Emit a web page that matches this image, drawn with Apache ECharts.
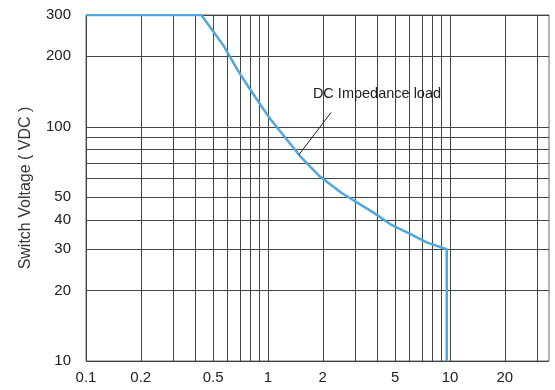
<!DOCTYPE html>
<html>
<head>
<meta charset="utf-8">
<script src="https://cdn.jsdelivr.net/npm/echarts@6/dist/echarts.min.js"></script>
<style>
  html, body { margin: 0; padding: 0; background: #fff; }
  #main { width: 555px; height: 390px; }
</style>
</head>
<body>
<div id="main"></div>
<script>
// switching current (A) / switch voltage (VDC)
var currentA = [0.1, 0.43, 0.57, 0.68, 0.79, 0.93, 1.03, 1.5, 1.9, 2.55, 3.8, 4.8, 6.0, 7.5, 9.6, 9.6];
var voltageV = [300, 300, 222, 175, 146, 121, 108, 75, 62, 52, 43, 38, 35, 32, 30, 10];

var xLabelValues = [0.1, 0.2, 0.5, 1, 2, 5, 10, 20];
var xGridValues = [0.1, 0.2, 0.3, 0.4, 0.5, 0.6, 0.7, 0.8, 0.9, 1, 2, 3, 4, 5, 6, 7, 8, 9, 10, 20, 30];
var yLabelValues = [10, 20, 30, 40, 50, 100, 200, 300];
var yGridValues = [10, 20, 30, 40, 50, 60, 70, 80, 90, 100, 200, 300];

// leader line of the "DC Impedance load" note
var noteLine = [[1.48, 76], [2.22, 115]];
var notePos = [3.97, 138];

var chart = echarts.init(document.getElementById('main'));
var lineColor = '#444';
var font = 'Liberation Sans, Arial, sans-serif';

var option = {
  animation: false,
  grid: {
    left: 86,
    right: 6,
    top: 15,
    bottom: 29,
    show: true,
    borderColor: '#666',
    borderWidth: 1
  },
  xAxis: {
    type: 'log',
    min: 0.1,
    max: 35,
    axisLine: { show: false },
    axisTick: { show: false, customValues: xGridValues },
    axisLabel: {
      customValues: xLabelValues,
      color: '#222',
      fontSize: 15,
      fontFamily: font,
      margin: 9,
      formatter: function (v) { return String(v); }
    },
    splitLine: { show: true, lineStyle: { color: lineColor, width: 1 } }
  },
  yAxis: {
    type: 'log',
    min: 10,
    max: 300,
    name: 'Switch Voltage ( VDC )',
    nameLocation: 'middle',
    nameGap: 52,
    nameTextStyle: { color: '#333', fontSize: 16, fontFamily: font },
    axisLine: { show: false },
    axisTick: { show: false, customValues: yGridValues },
    axisLabel: {
      customValues: yLabelValues,
      color: '#222',
      fontSize: 15,
      fontFamily: font,
      margin: 15,
      formatter: function (v) { return String(v); }
    },
    splitLine: { show: true, lineStyle: { color: lineColor, width: 1 } }
  },
  series: [
    {
      name: 'DC Impedance load',
      type: 'line',
      data: currentA.map(function (x, i) { return [x, voltageV[i]]; }),
      symbol: 'none',
      smooth: false,
      lineStyle: { color: '#4fa7df', width: 2.5 },
      markLine: {
        silent: true,
        symbol: 'none',
        label: { show: false },
        lineStyle: { color: '#222', width: 1, type: 'solid' },
        data: [[{ coord: noteLine[0] }, { coord: noteLine[1] }]]
      },
      markPoint: {
        silent: true,
        symbol: 'rect',
        symbolSize: 1,
        itemStyle: { color: 'rgba(0,0,0,0)' },
        label: {
          show: true,
          position: 'inside',
          formatter: 'DC Impedance load',
          color: '#222',
          fontSize: 14.5,
          fontFamily: font
        },
        data: [{ coord: notePos }]
      }
    }
  ]
};

chart.setOption(option);
</script>
</body>
</html>
